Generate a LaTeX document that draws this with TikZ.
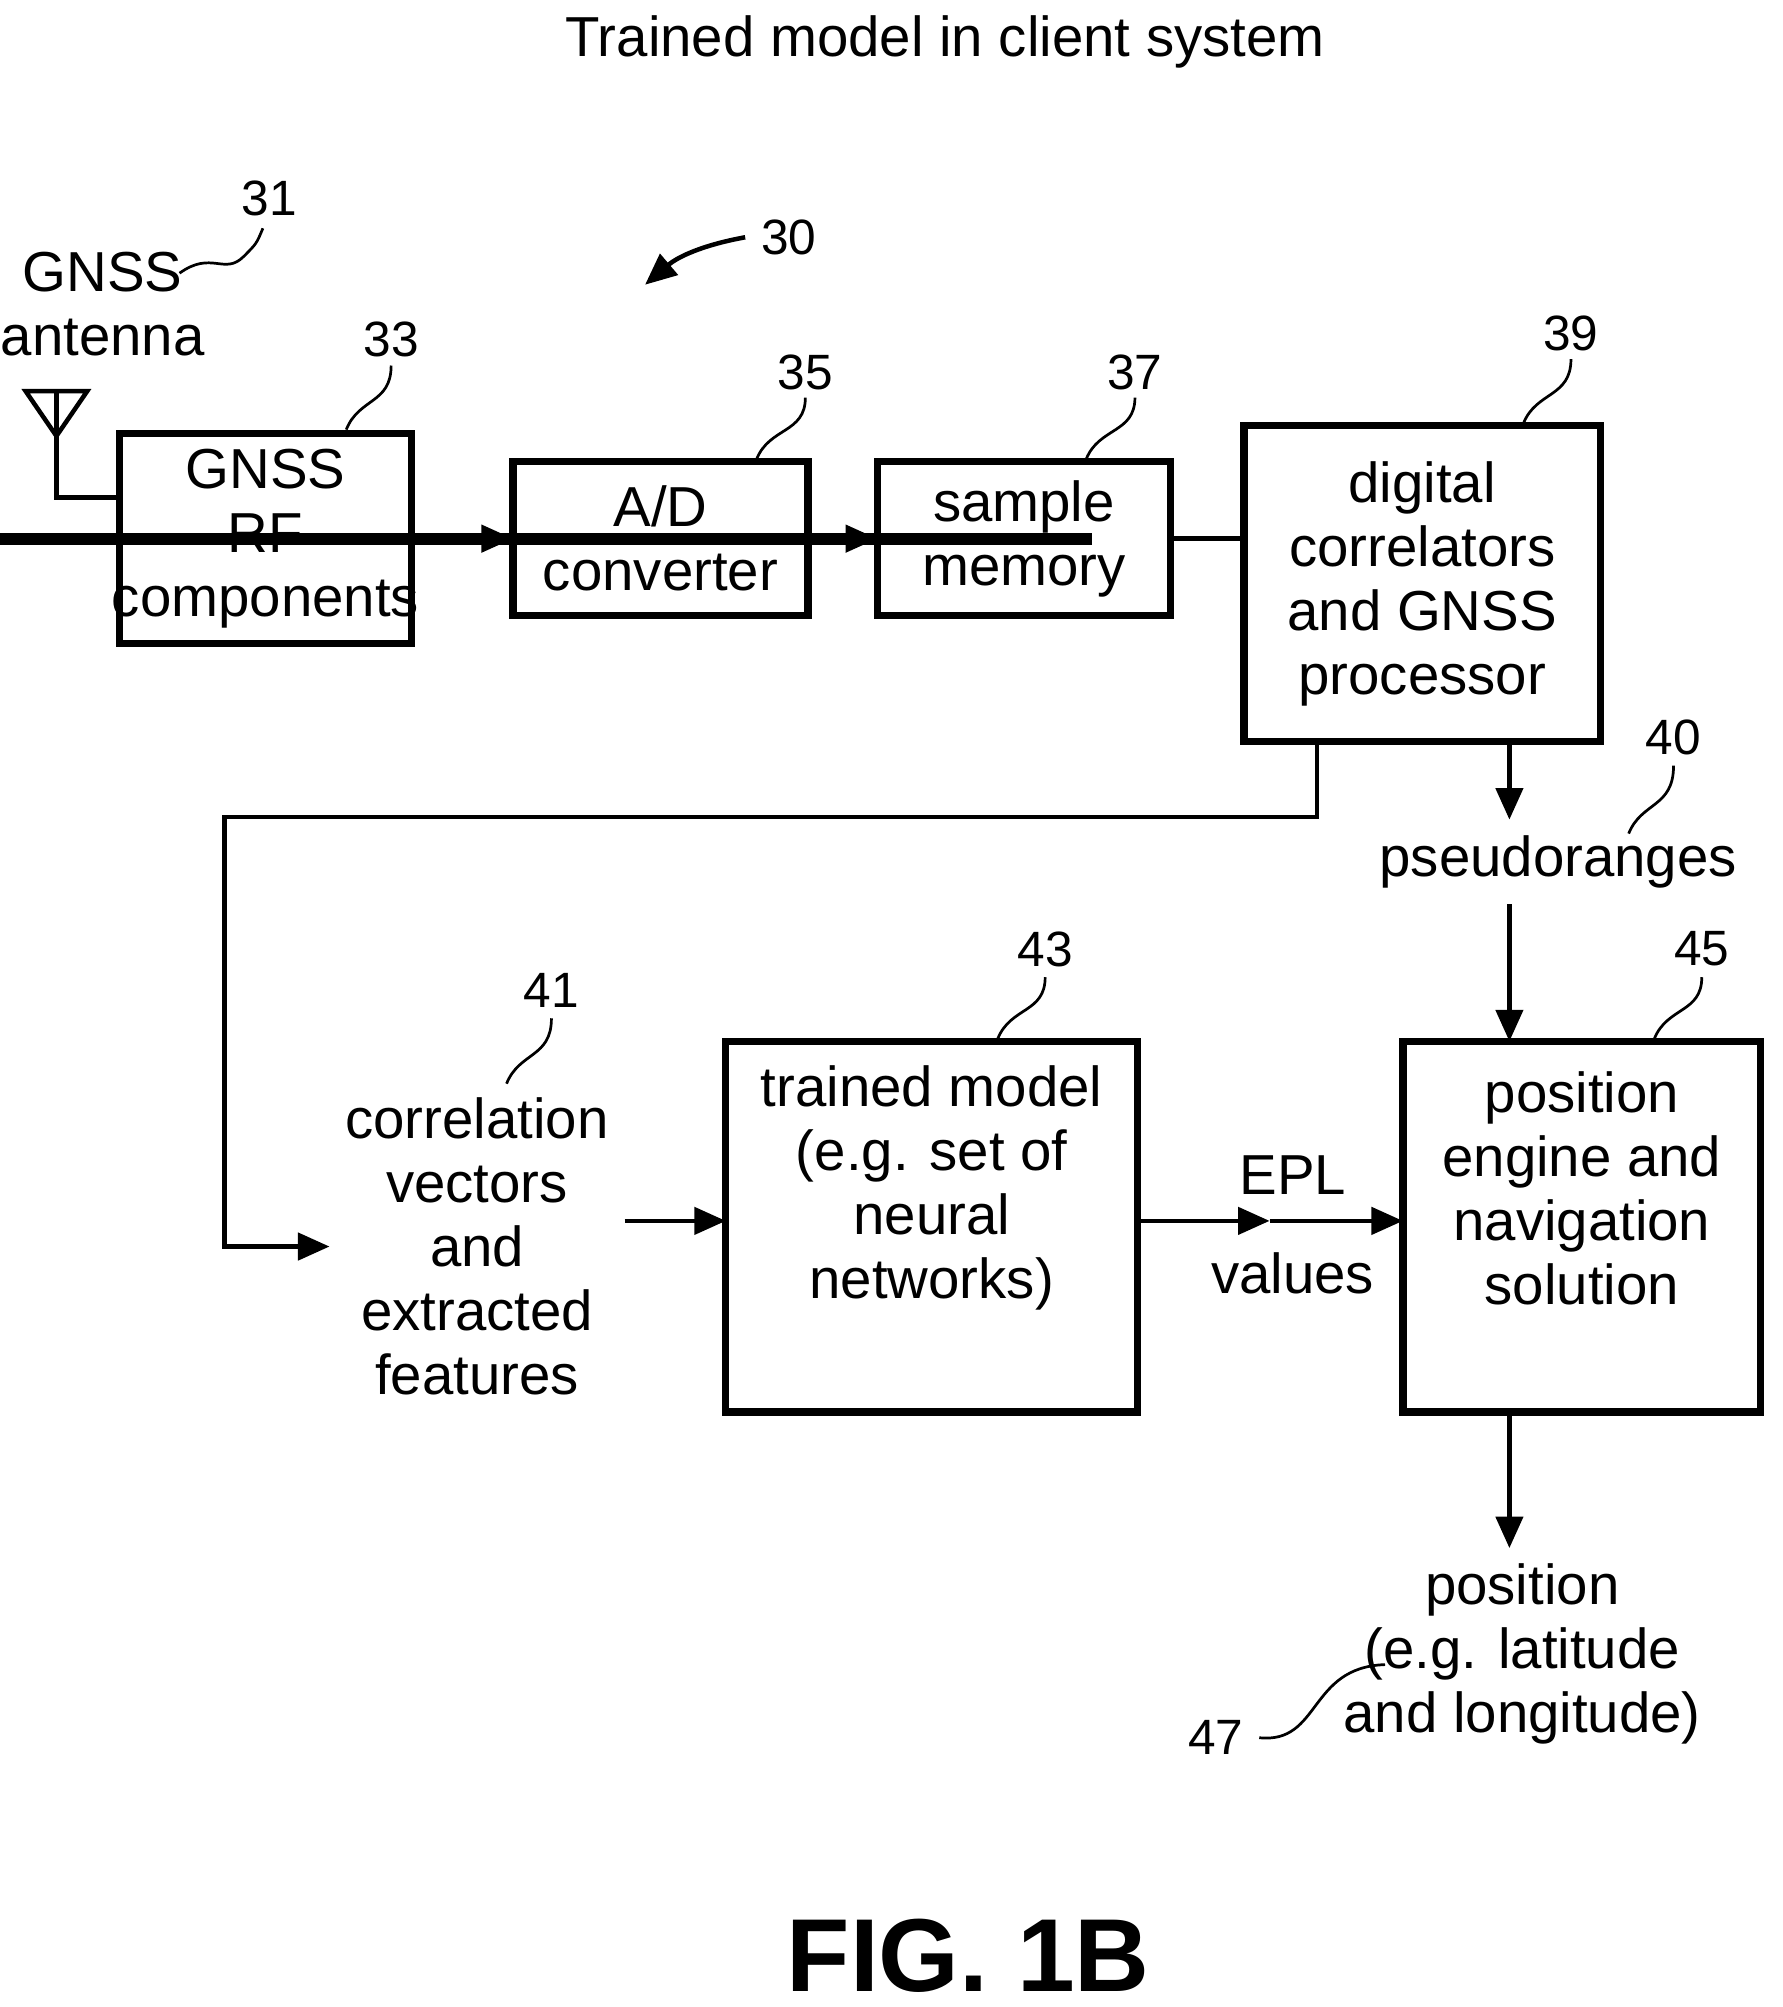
\documentclass[tikz,border=0pt]{standalone}
\usepackage{fontspec}
\setmainfont{Liberation Sans}
\usetikzlibrary{arrows.meta, positioning, calc}

\tikzset{
  blk/.style={draw, line width=1.6pt, align=center, inner sep=0pt},
  lbl/.style={font=\fontsize{11pt}{13pt}\selectfont},
  txt/.style={align=center, font=\fontsize{12.5pt}{14.2pt}\selectfont},
  arr/.style={-{Triangle[length=7pt,width=6pt]}, line width=1pt},
  squig/.style={line width=0.6pt}
}

\begin{document}
\begin{tikzpicture}[x=0.01cm, y=-0.01cm]
          \useasboundingbox (0,0) rectangle (1390,1565);

          \node [txt] (title) at (737,33) {Trained model in client system};

          % Draws the boxes
          \node [blk, txt, minimum width=228\pgflinewidth, text width=210] (rf) at (207,420) {};
          \draw [line width=1.6pt] (93,338) rectangle (321,502) node [txt,midway] (rftxt) {GNSS\\RF\\components};
          \draw [line width=1.6pt] (400,360) rectangle (630,480) node [txt,midway] (adc) {A/D\\converter};
          \draw [line width=1.6pt] (684,360) rectangle (913,480) node [txt,midway] (mem) {sample\\memory};
          \draw [line width=1.6pt] (970,332) rectangle (1248,578) node [txt,midway] (proc) {digital\\correlators\\and GNSS\\processor};
          \draw [line width=1.6pt] (566,812) rectangle (887,1101) node [txt,midway,yshift=0.3cm] (model) {trained model\\(e.g. set of\\neural\\networks)};
          \draw [line width=1.6pt] (1094,812) rectangle (1373,1101) node [txt,midway,yshift=0.3cm] (pos) {position\\engine and\\navigation\\solution};

          \coordinate (rfL) at (93,388);
          \coordinate (rfR) at (321,420);
          \coordinate (adcL) at (400,420);
          \coordinate (adcR) at (630,420);
          \coordinate (memL) at (684,420);
          \coordinate (memR) at (913,420);
          \coordinate (procL) at (970,420);
          \coordinate (procB1) at (1027,578);
          \coordinate (procB2) at (1177,578);
          \coordinate (modelL) at (566,952);
          \coordinate (modelR) at (887,952);
          \coordinate (posL) at (1094,952);
          \coordinate (posT) at (1177,812);
          \coordinate (posB) at (1177,1101);

          % free texts
          \node [txt] (ant) at (80,237) {GNSS\\antenna};
          \node [txt] (pseudo) at (1215,672) {pseudoranges};
          \node [txt] (corr) at (372,972) {correlation\\vectors\\and\\extracted\\features};
          \node [txt] (epl) at (1008,916) {EPL};
          \node [txt] (vals) at (1008,993) {values};
          \node [txt] (out) at (1187,1290) {position\\(e.g. latitude\\and longitude)};
          \node [font=\bfseries\fontsize{23pt}{26pt}\selectfont] (fig) at (755,1525) {FIG. 1B};

          % antenna
          \draw [line width=1pt] (20,305) -- (68,305) -- (44,340) -- cycle;
          \draw [line width=1pt] (44,305) -- (44,388) -- (rfL);

          % connectors
          \draw [arr] (rfR) -- (adcL);
          \draw [arr] (adcR) -- (memL);
          \draw [line width=1pt] (memR) -- (procL);
          \draw [arr] (procB1) -- (1027,637) -- (175,637) |- (corr.west);
          \draw [arr] (procB2) -- (pseudo.north -| procB2);
          \draw [arr] (pseudo.south -| posT) -- (posT);
          \draw [arr] (corr.east |- modelL) -- (modelL);
          \draw [arr] (modelR) -- (990,952);
          \draw [arr] (990,952) -- (posL);
          \draw [arr] (posB) -- (out.north -| posB);

          % reference numerals
          \node [lbl] (n30) at (615,185) {30};
          \draw [arr, line width=1pt] (n30.west) to [bend right=15] (503,222);
          \node [lbl] (n31) at (210,155) {31};
          \draw [squig] (140,213) .. controls (165,195) and (175,215) .. (190,200) .. controls (200,190) .. (205,178);
          \node [lbl] (n33) at (305,265) {33};
          \draw [squig] (270,335) .. controls (280,310) and (305,315) .. (305,285);
          \node [lbl] (n35) at (628,290) {35};
          \draw [squig] (590,358) .. controls (600,333) and (628,338) .. (628,310);
          \node [lbl] (n37) at (885,290) {37};
          \draw [squig] (847,358) .. controls (857,333) and (885,338) .. (885,310);
          \node [lbl] (n39) at (1225,260) {39};
          \draw [squig] (1188,330) .. controls (1198,305) and (1225,310) .. (1225,280);
          \node [lbl] (n40) at (1305,575) {40};
          \draw [squig] (1270,650) .. controls (1280,625) and (1305,630) .. (1305,597);
          \node [lbl] (n41) at (430,772) {41};
          \draw [squig] (395,845) .. controls (405,820) and (430,825) .. (430,794);
          \node [lbl] (n43) at (815,740) {43};
          \draw [squig] (778,810) .. controls (788,785) and (815,790) .. (815,762);
          \node [lbl] (n45) at (1327,740) {45};
          \draw [squig] (1290,810) .. controls (1300,785) and (1327,790) .. (1327,762);
          \node [lbl] (n47) at (948,1355) {47};
          \draw [squig] (n47.east) .. controls (1030,1360) and (1020,1300) .. (1080,1298);
        \end{tikzpicture}
\end{document}
